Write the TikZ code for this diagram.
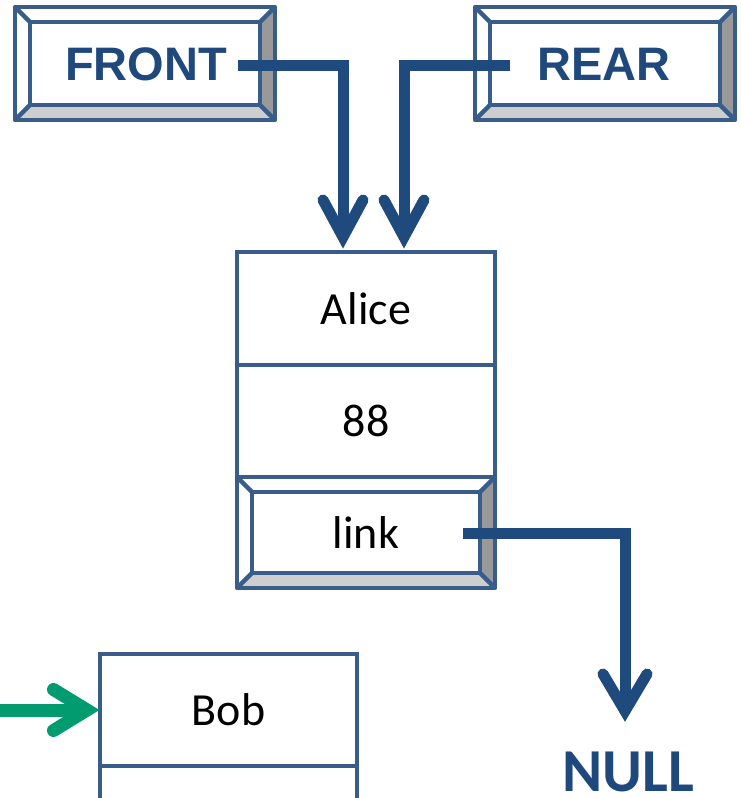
\documentclass[tikz,border=0pt]{standalone}
\usepackage{fontspec}
\setmainfont{Carlito}
\newfontfamily\arialfont{Liberation Sans}
\usetikzlibrary{calc}
\definecolor{boxline}{RGB}{56,93,138}
\definecolor{arrowblue}{RGB}{31,74,125}
\definecolor{titleblue}{RGB}{31,73,125}
\definecolor{grn}{RGB}{0,155,110}
\definecolor{bevdark}{RGB}{153,153,153}
\definecolor{bevlight}{RGB}{206,206,206}
\newcommand\bevelframe[2]{%
  \coordinate (bo1) at (#1.north west);
  \coordinate (bo2) at (#1.north east);
  \coordinate (bo3) at (#1.south east);
  \coordinate (bo4) at (#1.south west);
  \coordinate (bi1) at ($(bo1)+(#2,#2)$);
  \coordinate (bi2) at ($(bo2)+(-#2,#2)$);
  \coordinate (bi3) at ($(bo3)+(-#2,-#2)$);
  \coordinate (bi4) at ($(bo4)+(#2,-#2)$);
  \fill[bevdark] (bo2) -- (bo3) -- (bi3) -- (bi2) -- cycle;
  \fill[bevlight] (bo3) -- (bo4) -- (bi4) -- (bi3) -- cycle;
  \draw[frameline] (bi1) rectangle (bi3);
  \draw[frameline] (bo1) -- (bi1) (bo2) -- (bi2) (bo3) -- (bi3) (bo4) -- (bi4);
  \draw[frameline] (bo1) rectangle (bo3);
}
\begin{document}
\begin{tikzpicture}[x=1pt,y=-1pt,
  frameline/.style={draw=boxline, line width=4.5pt, line join=round},
  cell/.style={draw=boxline, line width=4.5pt, minimum width=258pt, inner sep=0pt, outer sep=0pt,
    font=\fontsize{46}{50}\selectfont, text=black},
  bevbox/.style={inner sep=0pt, outer sep=0pt, minimum width=260pt, minimum height=113pt},
  title/.style={font=\fontsize{47}{50}\selectfont\arialfont\bfseries, text=titleblue},
  conn/.style={draw=arrowblue, line width=11pt, line join=miter},
  barb/.style={draw=arrowblue, line width=11pt, line cap=round, line join=miter},
  gconn/.style={draw=grn, line width=13pt},
  gbarb/.style={draw=grn, line width=13pt, line cap=round, line join=miter},
]
\fill[white] (0,0) rectangle (740,798);
\useasboundingbox (0,0) rectangle (740,798);
\clip (0,0) rectangle (740,798);

% FRONT / REAR boxes
\node[bevbox] (front) at (145,63.5) {};
\bevelframe{front}{15}
\node[title] (fronttext) at (146,64.5) {FRONT};
\node[bevbox] (rear) at (605,63.5) {};
\bevelframe{rear}{15}
\node[title] (reartext) at (604,64.5) {REAR};

% Alice node
\node[cell, minimum height=113pt] (alice) at (366,308.5) {Alice};
\node[cell, minimum height=112pt] (val) at (366,421) {88};
\node[cell, draw=none, minimum height=111pt] (link) at (366,532.5) {};
\bevelframe{link}{15}
\node[cell, draw=none] (linktext) at (366,533) {link};

% Bob node
\node[cell, minimum width=257pt, minimum height=112pt] (bob) at (228.5,710) {Bob};
\node[cell, minimum width=257pt, minimum height=112pt] (bobval) at (228.5,822) {};

% NULL
\node[inner sep=0pt, font=\fontsize{61}{64}\selectfont\bfseries, text=titleblue] (null) at (628,772) {NULL};

% connectors
\coordinate (t1) at ($(alice.north)+(-23,-15)$);
\coordinate (t2) at ($(alice.north)+(38,-15)$);
\coordinate (t3) at (625,711);
\coordinate (gstart) at (-5,710);
\coordinate (t4) at ($(bob.west)+(-13,0)$);

\draw[conn] ($(front.east)+(-37,1.5)$) -| (t1);
\draw[barb] ($(t1)+(-20,-37)$) -- (t1) -- ($(t1)+(20,-37)$);
\draw[conn] ($(rear.west)+(35,1.5)$) -| (t2);
\draw[barb] ($(t2)+(-20,-37)$) -- (t2) -- ($(t2)+(20,-37)$);
\draw[conn] ($(link.east)+(-32,0.5)$) -| (t3);
\draw[barb] ($(t3)+(-22,-37)$) -- (t3) -- ($(t3)+(22,-37)$);

\draw[gconn] (gstart) -- (t4);
\draw[gbarb] ($(t4)+(-33.5,-20.5)$) -- (t4) -- ($(t4)+(-33.5,20.5)$);
\end{tikzpicture}
\end{document}
